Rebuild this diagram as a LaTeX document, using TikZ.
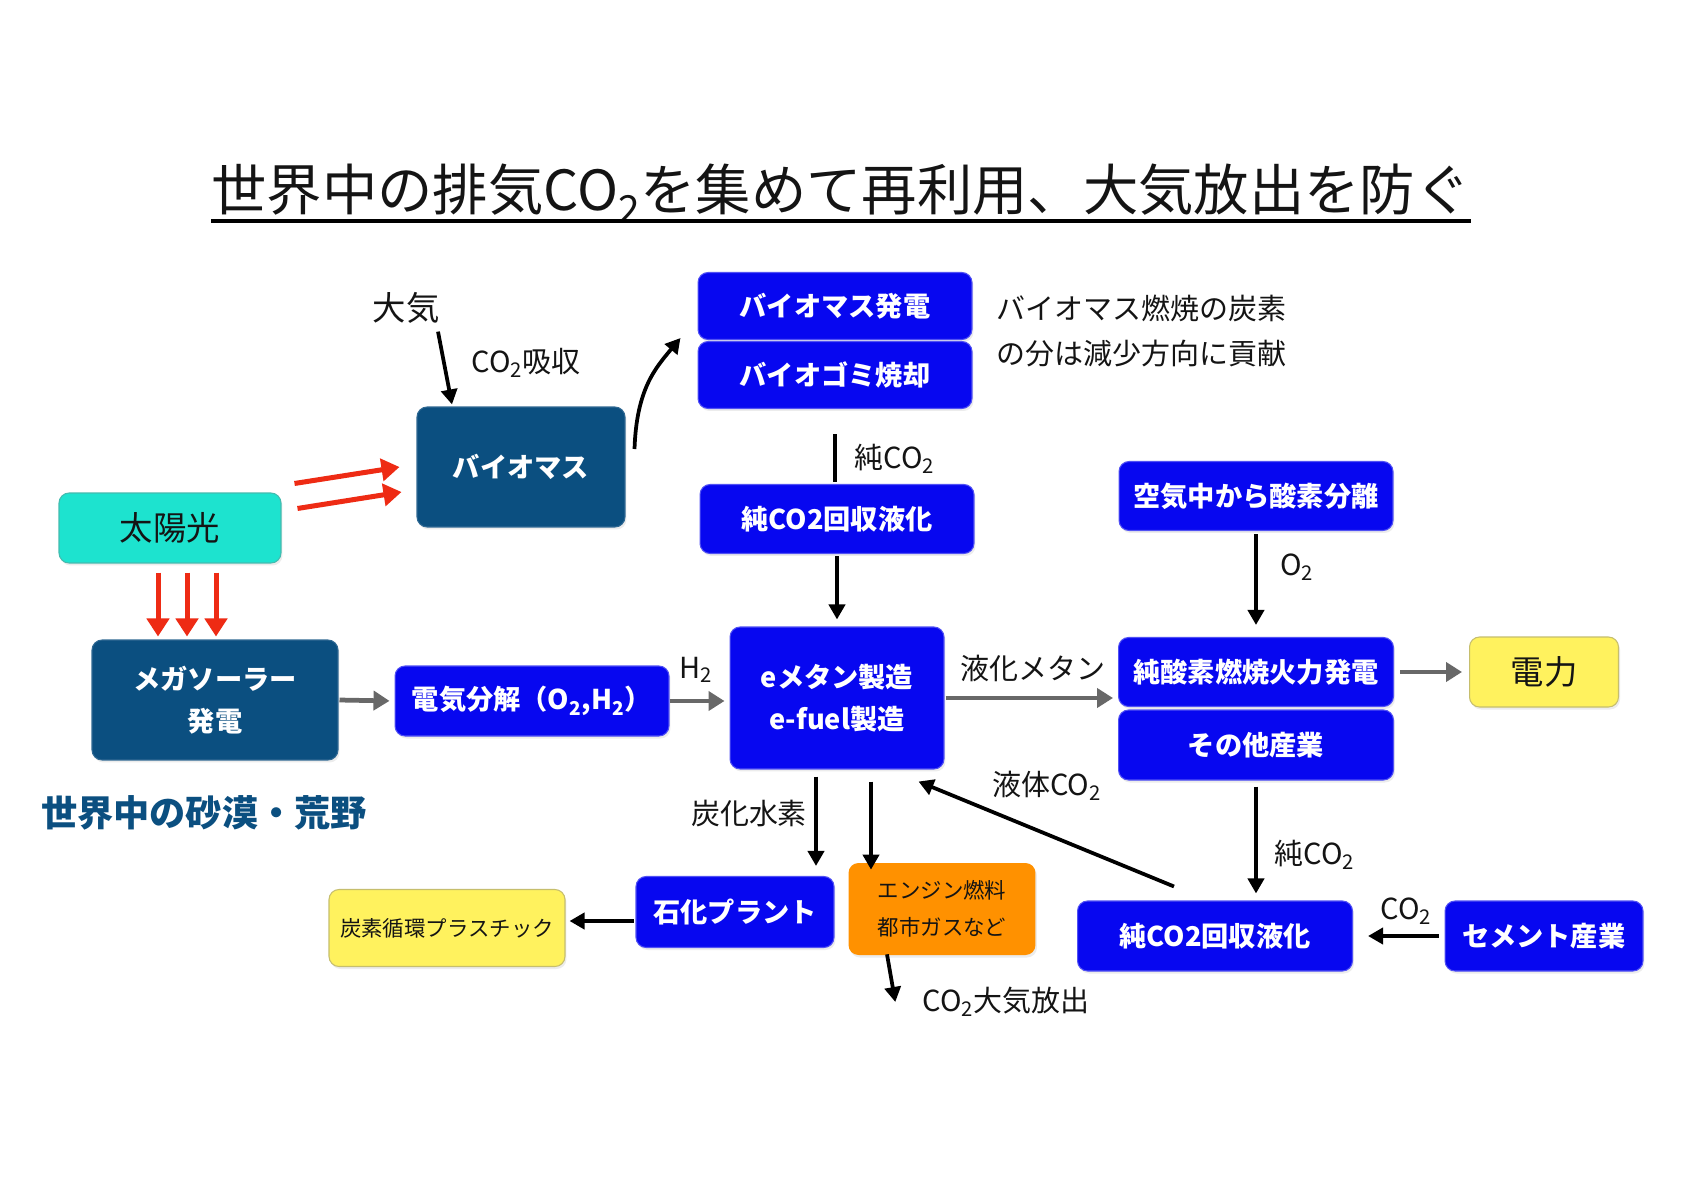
\documentclass[tikz,border=0pt]{standalone}
\usepackage{fontspec}
\setmainfont{Noto Sans CJK JP}
\usepackage{xcolor}
\usepackage{tikz}
\usetikzlibrary{arrows.meta, positioning, calc, shadows}
\definecolor{Ink}{HTML}{141414}
\definecolor{Sky}{HTML}{1DE3CF}
\definecolor{Navy}{HTML}{0B4F80}
\definecolor{Royal}{HTML}{0707F0}
\definecolor{Lemon}{HTML}{FFF25E}
\definecolor{Tangerine}{HTML}{FF9100}
\definecolor{Flame}{HTML}{EE2B14}
\definecolor{Steel}{HTML}{686868}

\begin{document}
\begin{tikzpicture}[
  x={(0.02cm,0)}, y={(0,-0.02cm)},
  box/.style={rounded corners=0.2cm, align=center, inner sep=0pt, text=white,
    font=\fontsize{15.5}{24}\selectfont\bfseries,
    drop shadow={opacity=0.15, shadow xshift=0.03cm, shadow yshift=-0.05cm}},
  navybox/.style={box, fill=Navy, draw=Navy!85!white, line width=0.6pt},
  bluebox/.style={box, fill=Royal, draw=Royal!70!white, line width=0.6pt},
  skybox/.style={box, fill=Sky, draw=Sky!60!gray, line width=0.6pt, text=Ink,
    font=\fontsize{19}{24}\selectfont},
  lemonbox/.style={box, fill=Lemon, draw=Lemon!55!gray, line width=0.6pt, text=Ink,
    font=\fontsize{19}{24}\selectfont},
  notebox/.style={box, text=Ink, font=\fontsize{12.2}{21}\selectfont},
  lbl/.style={text=Ink, inner sep=1pt, font=\fontsize{16.5}{25.5}\selectfont},
  plain/.style={line width=0.075cm, draw=black},
  arr/.style={-{Triangle[length=0.3cm, width=0.32cm]}, line width=0.075cm, draw=black},
  grayarr/.style={-{Triangle[length=0.32cm, width=0.38cm]}, line width=0.095cm, draw=Steel},
  redarr/.style={-{Triangle[length=0.36cm, width=0.44cm]}, line width=0.1cm, draw=Flame}
]
\fill[white] (0,0) rectangle (1684,1190);

% title
\node[inner xsep=0pt, text=Ink, font=\fontsize{31.5}{36}\selectfont] (title) at (841,194)
  {世界中の排気CO\textsubscript{2}を集めて再利用、大気放出を防ぐ};
\draw[line width=0.065cm] (title.west |- 0,221) -- (title.east |- 0,221);

% boxes
\node[skybox, minimum width=4.44cm, minimum height=1.4cm] (sun) at (170,528) {太陽光};
\node[navybox, minimum width=4.16cm, minimum height=2.4cm] (biomass) at (521,467) {バイオマス};
\node[navybox, minimum width=4.92cm, minimum height=2.4cm] (mega) at (215,700) {メガソーラー\\発電};
\node[bluebox, minimum width=5.48cm, minimum height=1.4cm] (elec) at (532,701) {電気分解（O\textsubscript{2},H\textsubscript{2}）};
\node[bluebox, minimum width=4.28cm, minimum height=2.84cm] (emethane) at (837,698) {eメタン製造\\e-fuel製造};
\node[bluebox, minimum width=5.48cm, minimum height=1.34cm] (biopower) at (835,306) {バイオマス発電};
\node[bluebox, minimum width=5.48cm, minimum height=1.34cm] (bioburn) at (835,375) {バイオゴミ焼却};
\node[bluebox, minimum width=5.48cm, minimum height=1.38cm] (co2top) at (837,519) {純CO2回収液化};
\node[bluebox, minimum width=5.48cm, minimum height=1.38cm] (oxysep) at (1256,496) {空気中から酸素分離};
\node[bluebox, minimum width=5.5cm, minimum height=1.38cm] (oxyfire) at (1256,672) {純酸素燃焼火力発電};
\node[bluebox, minimum width=5.5cm, minimum height=1.4cm] (otherind) at (1256,745) {その他産業};
\node[lemonbox, minimum width=2.98cm, minimum height=1.4cm] (power) at (1544,672) {電力};
\node[bluebox, minimum width=5.5cm, minimum height=1.4cm] (co2bot) at (1215,936) {純CO2回収液化};
\node[bluebox, minimum width=3.96cm, minimum height=1.4cm] (cement) at (1544,936) {セメント産業};
\node[bluebox, minimum width=3.96cm, minimum height=1.42cm] (petro) at (735,912) {石化プラント};
\node[notebox, fill=Tangerine, minimum width=3.74cm, minimum height=1.84cm] (engine) at (942,909) {エンジン燃料\\都市ガスなど};
\node[notebox, fill=Lemon, draw=Lemon!55!gray, line width=0.6pt, minimum width=4.72cm, minimum height=1.54cm] (plastic) at (447,928) {炭素循環プラスチック};

% labels
\node[lbl, font=\fontsize{19}{24}\selectfont] (taiki) at (406,308) {大気};
\node[lbl] (absorb) at (526,363) {CO\textsubscript{2}吸収};
\node[text=Navy, font=\fontsize{20.6}{26}\selectfont\bfseries] (desert) at (204,813) {世界中の砂漠・荒野};
\node[lbl, align=left, anchor=west] (bionote) at (994,331) {バイオマス燃焼の炭素\\の分は減少方向に貢献};
\node[lbl] (pureA) at (895,459) {純CO\textsubscript{2}};
\node[lbl] (o2) at (1297,567) {O\textsubscript{2}};
\node[lbl] (h2) at (696,670) {H\textsubscript{2}};
\node[lbl] (liqmeth) at (1033,668) {液化メタン};
\node[lbl] (liqco2) at (1047,786) {液体CO\textsubscript{2}};
\node[lbl] (hydro) at (749,813) {炭化水素};
\node[lbl] (pureB) at (1315,855) {純CO\textsubscript{2}};
\node[lbl] (cemco2) at (1406,911) {CO\textsubscript{2}};
\node[lbl] (release) at (1006,1002) {CO\textsubscript{2}大気放出};

% sunlight
\draw[redarr] ($(sun.north east)+(13,-9)$) -- ($(biomass.west)+(-17,0)$);
\draw[redarr] ($(sun.north east)+(16,16)$) -- ($(biomass.west)+(-15,25)$);
\foreach \dx in {-12,17,46}
  \draw[redarr] ($(sun.south)+(\dx,9)$) -- ($(sun.south |- mega.north)+(\dx,-3)$);

% biomass side
\draw[arr] ($(taiki.south)+(32,6)$) -- ($(biomass.north)+(-69,-2)$);
\draw[arr] ($(biomass.east)+(9,-18)$) .. controls +(2,-60) and +(-25,30) .. ($(biopower.west)+(-17,32)$);
\draw[plain] ($(bioburn.south)+(0,25)$) -- ($(bioburn.south |- co2top.north)+(0,-2)$);
\draw[arr, shorten <=0.04cm, shorten >=0.14cm] (co2top.south) -- (emethane.north);

% main line
\draw[grayarr, shorten <=0.02cm, shorten >=0.1cm] (mega.east) -- (elec.west);
\draw[grayarr, shorten >=0.1cm] (elec.east) -- (elec.east -| emethane.west);
\draw[grayarr, shorten <=0.02cm, shorten >=0.1cm] (emethane.east) -- (emethane.east -| oxyfire.west);
\draw[grayarr, shorten <=0.12cm, shorten >=0.14cm] (oxyfire.east) -- (power.west);

% right side
\draw[arr, shorten <=0.06cm, shorten >=0.24cm] (oxysep.south) -- (oxysep.south |- oxyfire.north);
\draw[arr, shorten <=0.12cm, shorten >=0.14cm] (otherind.south) -- (otherind.south |- co2bot.north);
\draw[arr, shorten <=0.12cm, shorten >=0.3cm] (cement.west) -- (co2bot.east);
\draw[arr] ($(co2bot.north)+(-41,-14)$) -- ($(emethane.south east)+(-26,12)$);

% products
\coordinate (hcA) at ($(emethane.south)+(-21,7)$);
\draw[arr] (hcA) -- ($(hcA |- petro.north)+(0,-10)$);
\coordinate (fuelA) at ($(emethane.south)+(34,12)$);
\draw[arr] (fuelA) -- ($(fuelA |- engine.north)+(0,7)$);
\draw[arr, shorten <=0.04cm] ($(petro.west)+(0,9)$) -- ($(petro.west -| plastic.east)+(4,9)$);
\draw[arr] ($(engine.south)+(-55,-1)$) -- ($(release.west)+(-25,0)$);
\end{tikzpicture}
\end{document}
